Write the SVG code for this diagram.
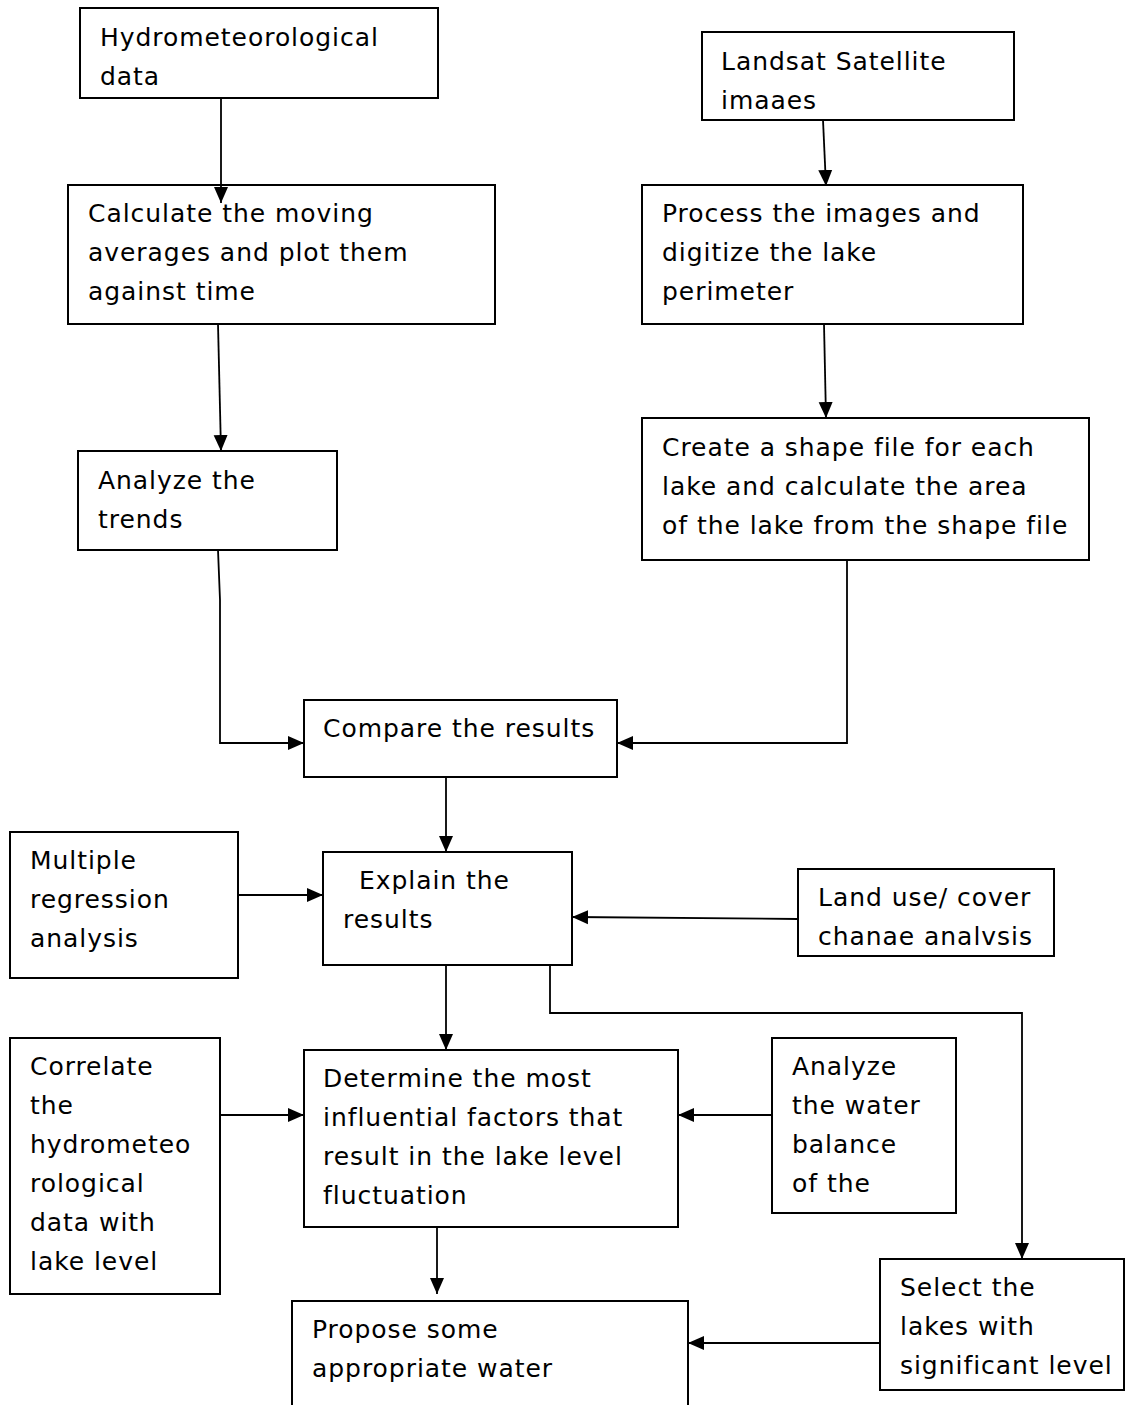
<svg xmlns="http://www.w3.org/2000/svg" width="1129" height="1405" viewBox="0 0 1129 1405">
<style>
.box{fill:#fff;stroke:#000;stroke-width:2}
.t{font-family:"DejaVu Sans","Liberation Sans",sans-serif;font-size:25px;letter-spacing:0.95px;fill:#000}
.c{fill:none;stroke:#000;stroke-width:1.8}
</style>
<defs>
<marker id="ah" markerUnits="userSpaceOnUse" markerWidth="17" markerHeight="15" refX="16" refY="7.5" orient="auto">
<path d="M0,0.5 L16,7.5 L0,14.5 Z" fill="#000"/>
</marker>
</defs>
<rect width="1129" height="1405" fill="#fff"/>
<g id="n1"><rect class="box" x="80" y="8" width="358" height="90"/>
<text class="t" x="100" y="46">Hydrometeorological</text><text class="t" x="100" y="85">data</text></g>
<g id="n2"><rect class="box" x="68" y="185" width="427" height="139"/>
<text class="t" x="88" y="222">Calculate the moving</text><text class="t" x="88" y="261">averages and plot them</text><text class="t" x="88" y="300">against time</text></g>
<g id="n3"><rect class="box" x="702" y="32" width="312" height="88"/>
<text class="t" x="721" y="70">Landsat Satellite</text><text class="t" x="721" y="109">imaaes</text></g>
<g id="n4"><rect class="box" x="642" y="185" width="381" height="139"/>
<text class="t" x="662" y="222">Process the images and</text><text class="t" x="662" y="261">digitize the lake</text><text class="t" x="662" y="300">perimeter</text></g>
<g id="n5"><rect class="box" x="78" y="451" width="259" height="99"/>
<text class="t" x="98" y="489">Analyze the</text><text class="t" x="98" y="528">trends</text></g>
<g id="n6"><rect class="box" x="642" y="418" width="447" height="142"/>
<text class="t" x="662" y="456">Create a shape file for each</text><text class="t" x="662" y="495">lake and calculate the area</text><text class="t" x="662" y="534">of the lake from the shape file</text></g>
<g id="n7"><rect class="box" x="304" y="700" width="313" height="77"/>
<text class="t" x="323" y="737">Compare the results</text></g>
<g id="n8"><rect class="box" x="10" y="832" width="228" height="146"/>
<text class="t" x="30" y="869">Multiple</text><text class="t" x="30" y="908">regression</text><text class="t" x="30" y="947">analysis</text></g>
<g id="n9"><rect class="box" x="323" y="852" width="249" height="113"/>
<text class="t" x="359" y="889">Explain the</text><text class="t" x="343" y="928">results</text></g>
<g id="n10"><rect class="box" x="798" y="869" width="256" height="87"/>
<text class="t" x="818" y="906">Land use/ cover</text><text class="t" x="818" y="945">chanae analvsis</text></g>
<g id="n11"><rect class="box" x="10" y="1038" width="210" height="256"/>
<text class="t" x="30" y="1075">Correlate</text><text class="t" x="30" y="1114">the</text><text class="t" x="30" y="1153">hydrometeo</text><text class="t" x="30" y="1192">rological</text><text class="t" x="30" y="1231">data with</text><text class="t" x="30" y="1270">lake level</text></g>
<g id="n12"><rect class="box" x="304" y="1050" width="374" height="177"/>
<text class="t" x="323" y="1087">Determine the most</text><text class="t" x="323" y="1126">influential factors that</text><text class="t" x="323" y="1165">result in the lake level</text><text class="t" x="323" y="1204">fluctuation</text></g>
<g id="n13"><rect class="box" x="772" y="1038" width="184" height="175"/>
<text class="t" x="792" y="1075">Analyze</text><text class="t" x="792" y="1114">the water</text><text class="t" x="792" y="1153">balance</text><text class="t" x="792" y="1192">of the</text></g>
<g id="n14"><rect class="box" x="880" y="1259" width="244" height="131"/>
<text class="t" x="900" y="1296">Select the</text><text class="t" x="900" y="1335">lakes with</text><text class="t" x="900" y="1374">significant level</text></g>
<g id="n15"><rect class="box" x="292" y="1301" width="396" height="110"/>
<text class="t" x="312" y="1338">Propose some</text><text class="t" x="312" y="1377">appropriate water</text></g>
<g id="connectors">
<path class="c" d="M221,98 L221,203" marker-end="url(#ah)"/>
<path class="c" d="M823,120 L826,186" marker-end="url(#ah)"/>
<path class="c" d="M218,324 L221,451" marker-end="url(#ah)"/>
<path class="c" d="M824,324 L826,418" marker-end="url(#ah)"/>
<path class="c" d="M218,550 L220,600 L220,743 L304,743" marker-end="url(#ah)"/>
<path class="c" d="M847,560 L847,743 L617,743" marker-end="url(#ah)"/>
<path class="c" d="M446,777 L446,852" marker-end="url(#ah)"/>
<path class="c" d="M238,895 L323,895" marker-end="url(#ah)"/>
<path class="c" d="M798,919 L572,917" marker-end="url(#ah)"/>
<path class="c" d="M446,965 L446,1050" marker-end="url(#ah)"/>
<path class="c" d="M550,965 L550,1013 L1022,1013 L1022,1259" marker-end="url(#ah)"/>
<path class="c" d="M220,1115 L304,1115" marker-end="url(#ah)"/>
<path class="c" d="M772,1115 L678,1115" marker-end="url(#ah)"/>
<path class="c" d="M437,1227 L437,1294" marker-end="url(#ah)"/>
<path class="c" d="M880,1343 L688,1343" marker-end="url(#ah)"/>
</g>
</svg>
